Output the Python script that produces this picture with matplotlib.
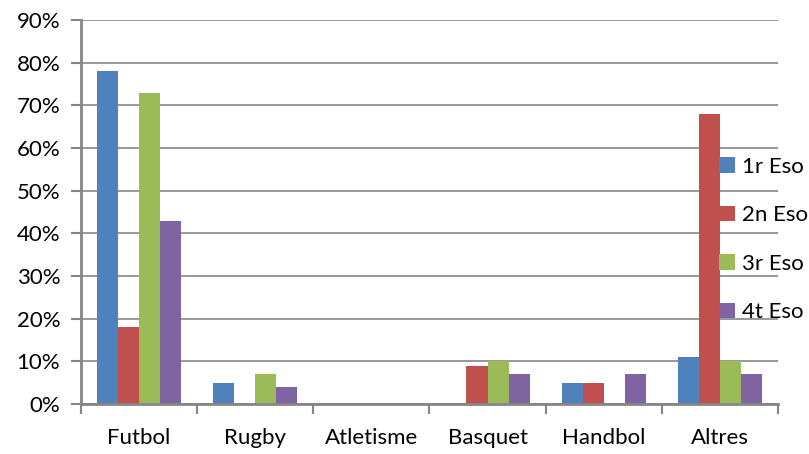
import numpy as np
import matplotlib
matplotlib.use("Agg")
import matplotlib.pyplot as plt
from matplotlib.patches import Patch

plt.rcParams['font.family'] = ['Lato', 'DejaVu Sans']

categories = ["Futbol", "Rugby", "Atletisme", "Basquet", "Handbol", "Altres"]
series = ["1r Eso", "2n Eso", "3r Eso", "4t Eso"]
vals_1r = [78, 5, 0, 0, 5, 11]
vals_2n = [18, 0, 0, 9, 5, 68]
vals_3r = [73, 7, 0, 10, 0, 10]
vals_4t = [43, 4, 0, 7, 7, 7]
colors = ["#4F81BD", "#C0504D", "#9BBB59", "#8064A2"]

data = [vals_1r, vals_2n, vals_3r, vals_4t]

fig = plt.figure(figsize=(8.09, 4.54), dpi=100)
ax = fig.add_axes([81/809, 50/454, 697/809, 384/454])

x = np.arange(len(categories))
bw = 1 / 5.5
for i, (vals, c) in enumerate(zip(data, colors)):
    ax.bar(x + (i - 1.5) * bw, np.array(vals) / 100, bw, color=c, zorder=3)

ax.set_xlim(-0.5, len(categories) - 0.5)
ax.set_ylim(0, 0.9)
ax.set_yticks(np.arange(0, 0.91, 0.1))
ax.set_yticklabels([f"{int(round(v*100))}%" for v in np.arange(0, 0.91, 0.1)])
ax.yaxis.grid(True, color="#868686", linewidth=1.2, zorder=0)

# category boundaries get the tick marks, names sit in the middle
ax.set_xticks(np.arange(-0.5, len(categories), 1))
ax.set_xticklabels([])
ax.set_xticks(x, minor=True)
ax.set_xticklabels(categories, minor=True)
ax.tick_params(axis='x', which='major', length=7, width=1.5, color="#868686", direction='out')
ax.tick_params(axis='x', which='minor', length=0, pad=17, labelsize=16)
ax.tick_params(axis='y', length=7, width=1.5, color="#868686", direction='out', labelsize=16, pad=8)

for s in ['top', 'right']:
    ax.spines[s].set_visible(False)
for s in ['left', 'bottom']:
    ax.spines[s].set_color("#868686")
    ax.spines[s].set_linewidth(2)
    ax.spines[s].set_zorder(4)

handles = [Patch(facecolor=c, label=s) for s, c in zip(series, colors)]
fig.legend(handles=handles, loc='upper left', bbox_to_anchor=(719/809, 1 - 157/454),
           frameon=False, fontsize=16, handlelength=0.7, handleheight=0.7,
           handletextpad=0.35, labelspacing=1.28, borderpad=0, borderaxespad=0)

fig.savefig("out.png", dpi=100)
